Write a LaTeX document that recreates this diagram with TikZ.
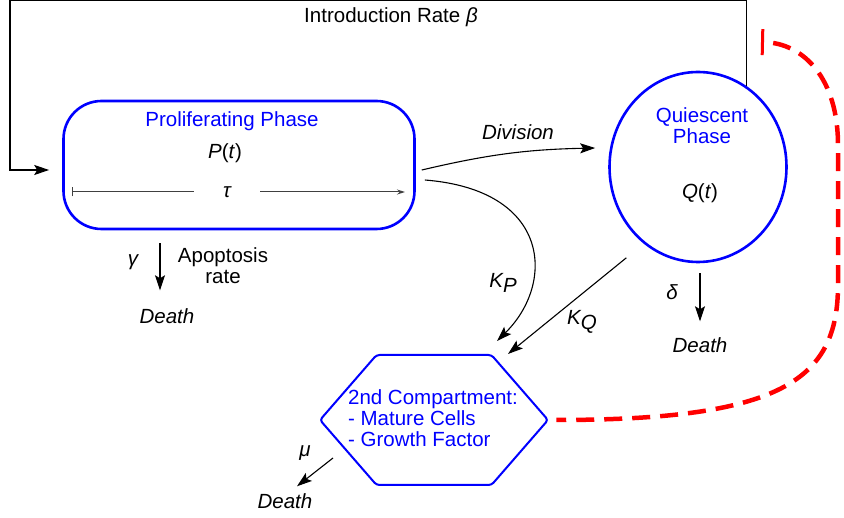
\documentclass[tikz,border=0pt]{standalone}
\usepackage{fontspec}
\setmainfont{Liberation Sans}
\usetikzlibrary{arrows.meta, positioning, shapes.geometric, shapes.symbols}

\begin{document}
\begin{tikzpicture}[x=1pt, y=-1pt, font=\fontsize{20.5}{21}\selectfont]

% Define block styles
\tikzstyle{phase} = [rectangle, rounded corners=38pt, draw=blue, line width=2.6pt, minimum width=351pt, minimum height=128pt]
\tikzstyle{store} = [ellipse, draw=blue, line width=2.6pt, minimum width=177pt, minimum height=190pt, inner sep=0pt]
\tikzstyle{compartment} = [signal, signal to=west and east, signal from=nowhere, signal pointer angle=98, draw=blue, line width=2pt, rounded corners=3pt, minimum width=228pt, minimum height=130pt, inner sep=0pt]
\tikzstyle{title} = [text=blue, align=center]
\tikzstyle{rate} = [font=\fontsize{20.5}{21}\selectfont\itshape]
\tikzstyle{death} = [font=\fontsize{20.5}{21}\selectfont\itshape, inner sep=0pt]
\tikzstyle{flow} = [line width=1.1pt, -{Stealth[length=15pt, width=10pt, inset=3pt]}]
\tikzstyle{tauline} = [draw=black!75, line width=1pt]
\tikzstyle{feedback} = [red, line width=4.5pt, dash pattern=on 18pt off 10pt, dash phase=18pt, {Bar[width=26pt, line width=3pt]}-]

\useasboundingbox (0,0) rectangle (844,518);

% Nodes
\node (intro) at (391,17) {Introduction Rate \textit{β}};
\node (prolif) [phase] at (239,165) {};
\node (prolifname) [title] at (232,121) {Proliferating Phase};
\node (pt) at (225,153) {\textit{P}(\textit{t})};
\node (tau) [rate, minimum width=66pt] at (227,192) {τ};
\node (gamma) [rate] at (133,262) {γ};
\node (apop) [align=center] at (223,266) {Apoptosis\\rate};
\node (deathP) [death] at (167,316) {Death};

\node (qui) [store] at (698,167) {};
\node (quiname) [title] at (702,126) {Quiescent\\Phase};
\node (qt) at (700,193) {\textit{Q}(\textit{t})};
\node (delta) [rate] at (672,292) {δ};
\node (deathQ) [death] at (700,345) {Death};

\node (division) [rate] at (518,132) {Division};
\node (kp) [rate] at (503,283) {K\raisebox{-0.45ex}{P}};
\node (kq) [rate] at (582,322) {K\raisebox{-0.45ex}{Q}};

\node (comp) [compartment] at (434,420) {};
\node (compname) [title, align=left] at (433,418) {2nd Compartment:\\- Mature Cells\\- Growth Factor};
\node (mu) [rate] at (305,453) {μ};
\node (deathC) [death] at (285,501) {Death};

\coordinate (taustart) at (72,192);
\coordinate (tauend) at (405,192);
\coordinate (topleft) at (10,0);
\coordinate (inhib) at (761,42);

% Arrows
\draw [flow] (qui.59) |- (topleft) |- ([xshift=-13pt, yshift=-5pt]prolif.west);
\draw [tauline, {Bar[width=9pt]}-] (taustart) -- (tau);
\draw [tauline, -{Stealth[length=8pt, width=5pt]}] (tau) -- (tauend);
\draw [flow] ([xshift=-79pt, yshift=-13pt]prolif.south) -- ([xshift=-7pt, yshift=18pt]deathP.north);
\draw [flow] ([xshift=6pt, yshift=-5pt]prolif.east) to[bend left=6] ([xshift=-13pt, yshift=19pt]qui.west);
\draw [flow] ([xshift=9pt, yshift=-15pt]prolif.east) .. controls +(127,10) and +(58,-57) .. ([xshift=63pt, yshift=13pt]comp.north);
\draw [flow] ([xshift=-14pt, yshift=-17pt]qui.232) -- ([xshift=74pt]comp.north);
\draw [flow] ([xshift=2pt, yshift=-10pt]qui.south) -- ([yshift=16pt]deathQ.north);
\draw [flow] ([xshift=-101pt, yshift=-38pt]comp.center) -- ([xshift=12pt, yshift=7pt]deathC.north);

% Feedback from the compartment
\draw [feedback] (inhib) .. controls +(44,1) and +(0,-65) .. (838,145) -- (838,285) .. controls +(0,95) and +(225,0) .. ([xshift=7pt]comp.east);

\end{tikzpicture}
\end{document}
